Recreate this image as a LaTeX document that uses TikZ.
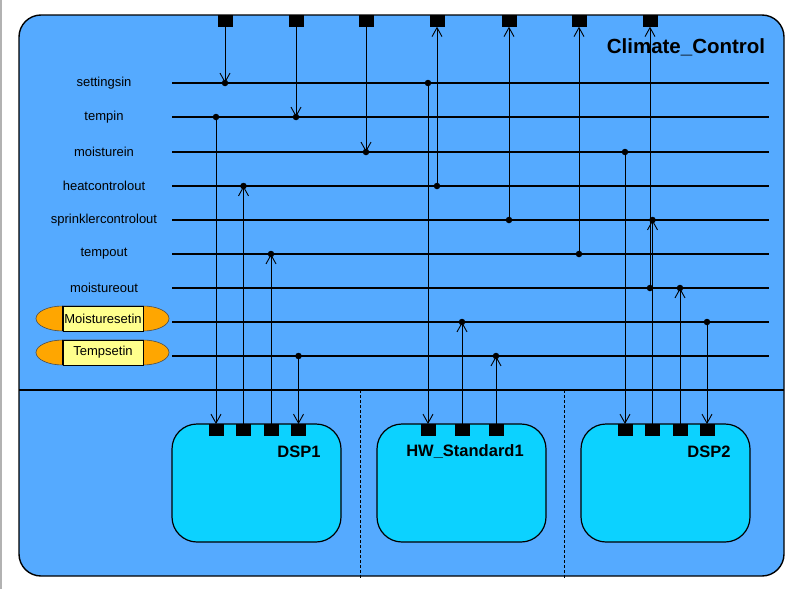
\documentclass[tikz,border=0pt]{standalone}
\usepackage{fontspec}
\setmainfont{Liberation Sans}
\usetikzlibrary{arrows.meta}
\definecolor{outerblue}{RGB}{85,170,255}
\definecolor{innercyan}{RGB}{12,210,255}
\definecolor{pillorange}{RGB}{255,166,0}
\definecolor{pillyellow}{RGB}{255,255,140}
\begin{document}
\begin{tikzpicture}[x=1pt,y=-1pt,
  port/.style={fill=black,draw=none,minimum width=15pt,minimum height=11.5pt,inner sep=0pt},
  sig/.style={line width=1.2pt},
  conn/.style={line width=0.9pt},
  arr/.style={conn,-{Straight Barb[length=9pt,width=10pt,line width=0.9pt]}},
  dot/.style={circle,fill=black,inner sep=0pt,minimum size=6.5pt},
  siglabel/.style={font=\fontsize{13}{15}\selectfont,inner sep=0pt},
  boxlabel/.style={font=\bfseries\fontsize{16.5}{18}\selectfont,inner sep=0pt},
  lowbox/.style={draw=black,line width=1.2pt,fill=innercyan,rounded corners=25pt,minimum width=169pt,minimum height=118pt,inner sep=0pt},
  pillbox/.style={draw=black,line width=0.8pt,fill=pillyellow,minimum width=80pt,minimum height=25pt,inner sep=0pt,font=\fontsize{13}{15}\selectfont},
  pillcap/.style={fill=pillorange,draw=black!70,line width=0.6pt}
]
\useasboundingbox (0,0) rectangle (800,589);
\fill[white] (0,0) rectangle (800,589);
\draw[gray!60,line width=1.5pt] (1,0) -- (1,589);

% outer component
\draw[fill=outerblue,line width=1.4pt,rounded corners=22pt] (19,15) rectangle (784,576);
\draw[line width=1.2pt] (19,390) -- (784,390);
\draw[line width=0.9pt,dash pattern=on 3pt off 2pt] (360,390) -- (360,578);
\draw[line width=0.9pt,dash pattern=on 3pt off 2pt] (564,390) -- (564,578);
\node[font=\bfseries\fontsize{20.5}{23}\selectfont,inner sep=0pt] (title) at (686,47) {Climate\_Control};

% signal lines and labels
\foreach \nm/\yy/\txt in {s1/83/settingsin,s2/117/tempin,s3/152/moisturein,s4/186/heatcontrolout,s5/220/sprinklercontrolout,s6/254/tempout,s7/288/moistureout}{
  \node[siglabel] (\nm l) at (104,\yy) {\txt};
  \coordinate (\nm a) at (172,\yy);
  \coordinate (\nm b) at (769,\yy);
  \draw[sig] (\nm a) -- (\nm b);
}
\foreach \nm/\yy in {s8/322,s9/356}{
  \coordinate (\nm a) at (172,\yy);
  \coordinate (\nm b) at (769,\yy);
  \draw[sig] (\nm a) -- (\nm b);
}

% pills
\foreach \nm/\yy/\txt in {p1/318.5/Moisturesetin,p2/352.5/Tempsetin}{
  \draw[pillcap] (63,\yy-12.5) -- (143,\yy-12.5) arc[start angle=-90,end angle=90,x radius=26,y radius=12.5]
     -- (63,\yy+12.5) arc[start angle=90,end angle=270,x radius=27,y radius=12.5] -- cycle;
  \node[pillbox] (\nm) at (103,\yy) {\txt};
  \draw[line width=1.6pt] (\nm.north west) -- (\nm.south west);
}

% top ports
\foreach \nm/\xx in {tp1/225,tp2/296,tp3/366,tp4/437,tp5/509,tp6/579,tp7/650}{
  \node[port] (\nm) at (\xx,20.75) {};
}

% lower components
\node[lowbox] (dsp1) at (256.5,483) {};
\node[lowbox] (hw1) at (461.5,483) {};
\node[lowbox] (dsp2) at (665.5,483) {};
\node[boxlabel] (dsp1l) at (299,452) {DSP1};
\node[boxlabel] (hw1l) at (465,452) {HW\_Standard1};
\node[boxlabel] (dsp2l) at (709,452) {DSP2};

\foreach \nm/\xx in {da1/216,da2/243.5,da3/271,da4/298.5,ha1/428,ha2/462,ha3/496,db1/625,db2/652.5,db3/680,db4/707}{
  \node[port] (\nm) at (\xx,430) {};
}

% junction dots
\foreach \nm/\xx/\yy in {j1/225/83,j2/296/117,j3/366/152,j4/437/186,j5/509/220,j6/579/254,j7/650/288,
  k1/428/83,k2/216/117,k3/243.5/186,k4/271/254,k5/298.5/356,k6/462/322,k7/496/356,
  k8/625/152,k9/652.5/220,k10/680/288,k11/707/322}{
  \node[dot] (\nm) at (\xx,\yy) {};
}

% connectors from/to top ports
\draw[arr] (tp1.south) -- (j1.center);
\draw[arr] (tp2.south) -- (j2.center);
\draw[arr] (tp3.south) -- (j3.center);
\draw[arr] (j4.center) -- (tp4.south);
\draw[arr] (j5.center) -- (tp5.south);
\draw[arr] (j6.center) -- (tp6.south);
\draw[arr] (j7.center) -- (tp7.south);

% connectors to lower components
\draw[arr] (k1.center) -- (ha1.north);
\draw[arr] (k2.center) -- (da1.north);
\draw[arr] (da2.north) -- (k3.center);
\draw[arr] (da3.north) -- (k4.center);
\draw[arr] (k5.center) -- (da4.north);
\draw[arr] (ha2.north) -- (k6.center);
\draw[arr] (ha3.north) -- (k7.center);
\draw[arr] (k8.center) -- (db1.north);
\draw[arr] (db2.north) -- (k9.center);
\draw[arr] (db3.north) -- (k10.center);
\draw[arr] (k11.center) -- (db4.north);
\end{tikzpicture}
\end{document}
